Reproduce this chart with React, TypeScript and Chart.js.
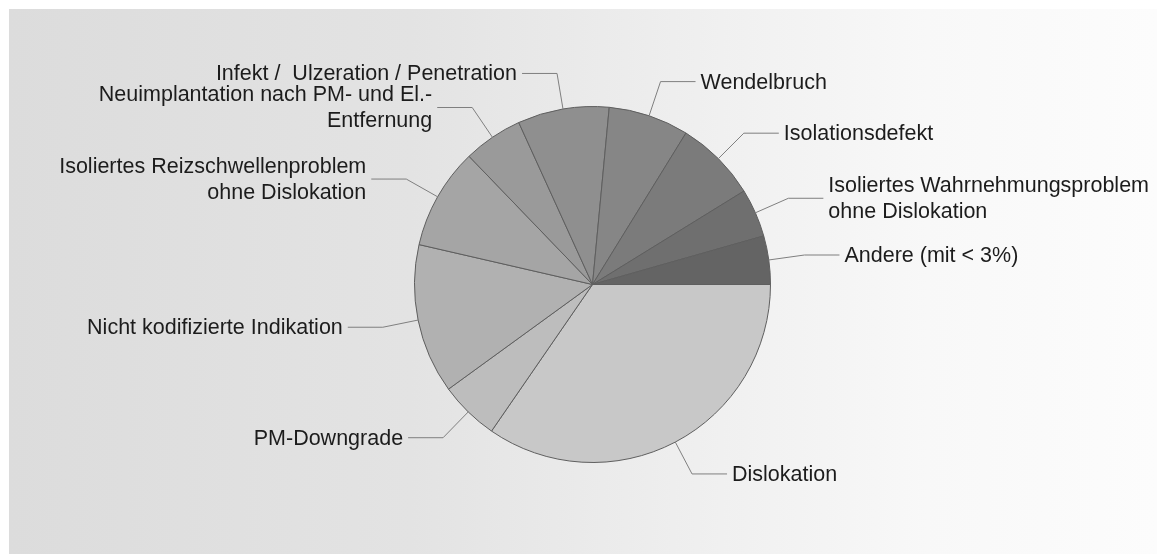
import React, { useEffect, useRef } from "react";
import { Chart, registerables } from "chart.js";

Chart.register(...registerables);

// Share of each indication (percent), clockwise from 3 o'clock
const categories: string[] = [
  "Dislokation",
  "PM-Downgrade",
  "Nicht kodifizierte Indikation",
  "Isoliertes Reizschwellenproblem\nohne Dislokation",
  "Neuimplantation nach PM- und El.-\nEntfernung",
  "Infekt /  Ulzeration / Penetration",
  "Wendelbruch",
  "Isolationsdefekt",
  "Isoliertes Wahrnehmungsproblem\nohne Dislokation",
  "Andere (mit < 3%)",
];

const shares: number[] = [34.6, 5.4, 13.6, 9.2, 5.4, 8.3, 7.3, 7.4, 4.4, 4.4];

const sliceColors: string[] = [
  "#c8c8c8",
  "#bdbdbd",
  "#b1b1b1",
  "#a5a5a5",
  "#9a9a9a",
  "#8f8f8f",
  "#868686",
  "#7b7b7b",
  "#6f6f6f",
  "#646464",
];

const FONT = '21.5px "Liberation Sans", Arial, sans-serif';
const LINE_HEIGHT = 26;
const ELBOW_EXTRA = 36;
const HORIZ_LEN = 35;
const TEXT_GAP = 5;

// Draws leader lines from each slice's outer edge to its label
const leaderLabels = {
  id: "leaderLabels",
  afterDraw(chart: any) {
    const ctx: CanvasRenderingContext2D = chart.ctx;
    const meta = chart.getDatasetMeta(0);
    const labels: string[] = chart.data.labels;
    ctx.save();
    ctx.font = FONT;
    ctx.textBaseline = "middle";
    meta.data.forEach((arc: any, i: number) => {
      const { x, y, startAngle, endAngle, outerRadius } = arc.getProps(
        ["x", "y", "startAngle", "endAngle", "outerRadius"],
        true
      );
      const mid = (startAngle + endAngle) / 2;
      const cos = Math.cos(mid);
      const sin = Math.sin(mid);
      const x0 = x + cos * outerRadius;
      const y0 = y + sin * outerRadius;
      const x1 = x + cos * (outerRadius + ELBOW_EXTRA);
      const y1 = y + sin * (outerRadius + ELBOW_EXTRA);
      const right = cos >= 0;
      const x2 = right ? x1 + HORIZ_LEN : x1 - HORIZ_LEN;

      ctx.strokeStyle = "#7f7f7f";
      ctx.lineWidth = 1;
      ctx.beginPath();
      ctx.moveTo(x0, y0);
      ctx.lineTo(x1, y1);
      ctx.lineTo(x2, y1);
      ctx.stroke();

      const lines = labels[i].split("\n");
      ctx.fillStyle = "#1c1c1c";
      ctx.textAlign = right ? "left" : "right";
      const tx = right ? x2 + TEXT_GAP : x2 - TEXT_GAP;
      const top = y1 - ((lines.length - 1) * LINE_HEIGHT) / 2;
      lines.forEach((ln, k) => {
        ctx.fillText(ln, tx, top + k * LINE_HEIGHT + 1);
      });
    });
    ctx.restore();
  },
};

export default function App() {
  const canvasRef = useRef<HTMLCanvasElement | null>(null);

  useEffect(() => {
    if (!canvasRef.current) return;
    const chart = new Chart(canvasRef.current, {
      type: "pie",
      data: {
        labels: categories,
        datasets: [
          {
            data: shares,
            backgroundColor: sliceColors,
            borderColor: "#5e5e5e",
            borderWidth: 1,
            radius: 178,
          },
        ],
      },
      options: {
        responsive: false,
        animation: false,
        rotation: 90,
        layout: { padding: { left: 19, top: 6, right: 0, bottom: 0 } },
        plugins: {
          legend: { display: false },
          tooltip: { enabled: false },
        },
      },
      plugins: [leaderLabels],
    });
    return () => chart.destroy();
  }, []);

  return (
    <div
      style={{
        position: "fixed",
        left: 9,
        top: 9,
        width: 1148,
        height: 545,
        background:
          "linear-gradient(to right, #dcdcdc 0%, #e3e3e3 35%, #f0f0f0 62%, #f8f8f8 80%, #fcfcfc 100%)",
      }}
    >
      <canvas ref={canvasRef} width={1148} height={545} style={{ display: "block" }} />
    </div>
  );
}
